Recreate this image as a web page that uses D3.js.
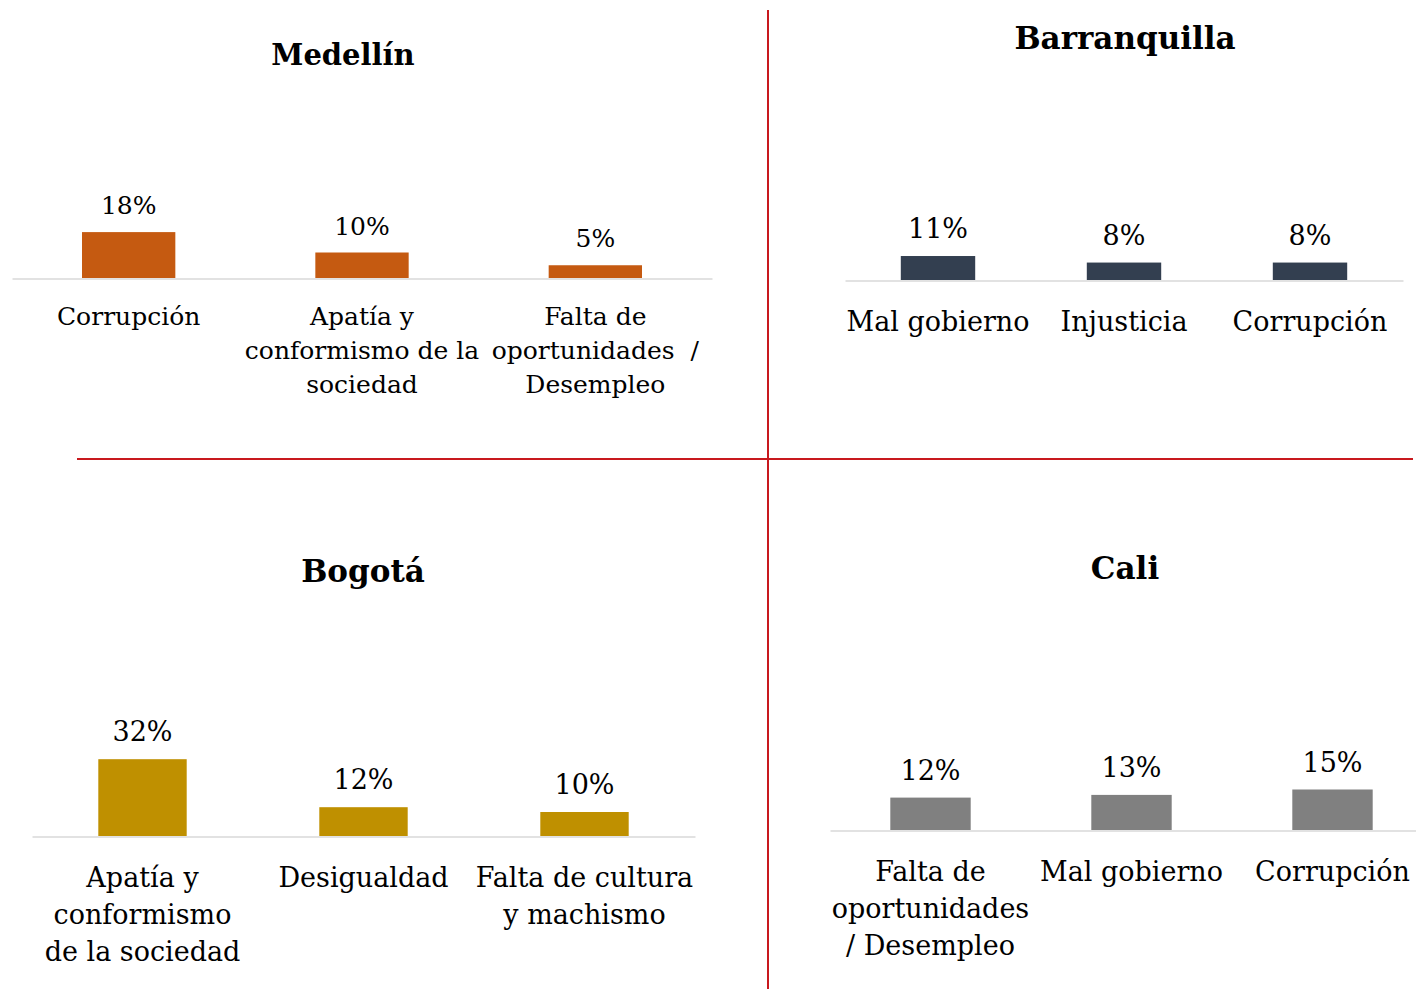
<!DOCTYPE html>
<html>
<head>
<meta charset="utf-8">
<script src="https://cdn.jsdelivr.net/npm/d3@7"></script>
<style>
  html, body { margin: 0; padding: 0; background: #fff; }
  svg { display: block; }
  text { font-family: "DejaVu Serif", "Liberation Serif", serif; fill: #000; }
</style>
</head>
<body>
<svg id="chart" width="1416" height="989"></svg>
<script>
// ---- Data ----
const cityNames = ["Medellín", "Barranquilla", "Bogotá", "Cali"];

const medellinCategories = ["Corrupción", "Apatía y\nconformismo de la\nsociedad", "Falta de\noportunidades  /\nDesempleo"];
const medellinValues = [18, 10, 5];

const barranquillaCategories = ["Mal gobierno", "Injusticia", "Corrupción"];
const barranquillaValues = [11, 8, 8];

const bogotaCategories = ["Apatía y\nconformismo\nde la sociedad", "Desigualdad", "Falta de cultura\ny machismo"];
const bogotaValues = [32, 12, 10];

const caliCategories = ["Falta de\noportunidades\n/ Desempleo", "Mal gobierno", "Corrupción"];
const caliValues = [12, 13, 15];

const seriesColors = ["#c55a11", "#333f50", "#bf9000", "#808080"];

// ---- Layout (styling/positions only) ----
const panels = [
  { name: cityNames[0], cats: medellinCategories, vals: medellinValues, color: seriesColors[0],
    x0: 12, x1: 712, axisY: 278, pxPer: 2.55, titleX: 343, titleY: 65, titleSize: 29,
    fs: 25, lineH: 34, labelY: 324 },
  { name: cityNames[1], cats: barranquillaCategories, vals: barranquillaValues, color: seriesColors[1],
    x0: 845, x1: 1403, axisY: 280, pxPer: 2.18, titleX: 1125, titleY: 49, titleSize: 31,
    fs: 27, lineH: 37, labelY: 330 },
  { name: cityNames[2], cats: bogotaCategories, vals: bogotaValues, color: seriesColors[2],
    x0: 32, x1: 695, axisY: 836, pxPer: 2.4, titleX: 363, titleY: 582, titleSize: 31,
    fs: 27, lineH: 37, labelY: 886 },
  { name: cityNames[3], cats: caliCategories, vals: caliValues, color: seriesColors[3],
    x0: 830, x1: 1433, axisY: 830, pxPer: 2.7, titleX: 1125, titleY: 579, titleSize: 31,
    fs: 27, lineH: 37, labelY: 880 }
];

const svg = d3.select("#chart");

// separator lines
svg.append("line").attr("x1", 768).attr("x2", 768).attr("y1", 10).attr("y2", 989)
  .attr("stroke", "#c8191e").attr("stroke-width", 2);
svg.append("line").attr("x1", 77).attr("x2", 1413).attr("y1", 459).attr("y2", 459)
  .attr("stroke", "#c8191e").attr("stroke-width", 2);

panels.forEach(p => {
  const g = svg.append("g");
  const x = d3.scaleBand().domain(p.cats).range([p.x0, p.x1]).paddingInner(0.6).paddingOuter(0.3);
  const y = d3.scaleLinear().domain([0, 100]).range([p.axisY, p.axisY - 100 * p.pxPer]);

  // title
  g.append("text").attr("x", p.titleX).attr("y", p.titleY)
    .attr("text-anchor", "middle").attr("font-weight", "bold")
    .attr("font-size", p.titleSize).text(p.name);

  // bars
  g.selectAll("rect.bar").data(p.vals).join("rect")
    .attr("class", "bar")
    .attr("x", (d, i) => x(p.cats[i]))
    .attr("width", x.bandwidth())
    .attr("y", d => y(d))
    .attr("height", d => y(0) - y(d))
    .attr("fill", p.color);

  // value labels
  g.selectAll("text.val").data(p.vals).join("text")
    .attr("class", "val")
    .attr("x", (d, i) => x(p.cats[i]) + x.bandwidth() / 2)
    .attr("y", d => y(d) - 18)
    .attr("text-anchor", "middle")
    .attr("font-size", p.fs)
    .text(d => d + "%");

  // axis baseline + category labels
  const axis = d3.axisBottom(x).tickSize(0).tickSizeOuter(0).tickFormat("");
  const ag = g.append("g").attr("transform", `translate(0,${p.axisY + 0.5})`).call(axis);
  ag.select(".domain").attr("stroke", "#d9d9d9").attr("stroke-width", 1.5);
  ag.selectAll(".tick").each(function(cat) {
    const t = d3.select(this).append("text")
      .attr("text-anchor", "middle")
      .attr("font-size", p.fs)
      .attr("y", p.labelY - p.axisY)
      .attr("fill", "#000");
    cat.split("\n").forEach((line, li) => {
      t.append("tspan").attr("x", 0).attr("y", p.labelY - p.axisY + li * p.lineH)
        .attr("xml:space", "preserve").text(line);
    });
  });
});
</script>
</body>
</html>
